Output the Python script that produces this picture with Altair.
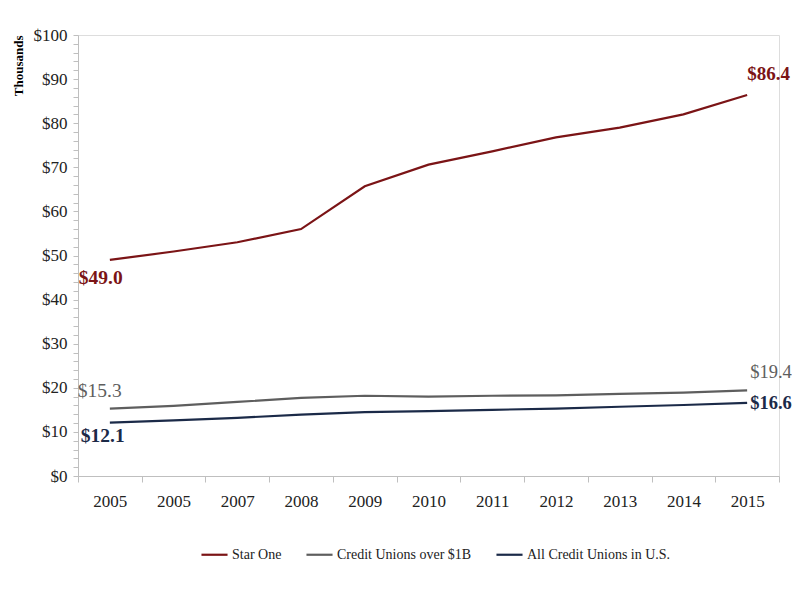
import json
import altair as alt
import pandas as pd

years = ["2005", "2005", "2007", "2008", "2009", "2010", "2011", "2012", "2013", "2014", "2015"]
series_names = ["Star One", "Credit Unions over $1B", "All Credit Unions in U.S."]
star_one = [49.0, 50.9, 53.0, 56.0, 65.7, 70.6, 73.6, 76.8, 79.0, 82.0, 86.4]
over_1b = [15.3, 15.9, 16.8, 17.7, 18.2, 18.0, 18.2, 18.3, 18.6, 18.9, 19.4]
all_cu = [12.1, 12.6, 13.2, 13.9, 14.5, 14.7, 15.0, 15.3, 15.7, 16.1, 16.6]
colors = ["#7B1416", "#5E5E5E", "#1B2A48"]

rows = []
for name, vals in zip(series_names, [star_one, over_1b, all_cu]):
    for i, v in enumerate(vals):
        rows.append({"series": name, "idx": i, "value": v})
df = pd.DataFrame(rows)

FONT = "Liberation Serif"
last = len(years) - 1
label_expr = json.dumps(years) + "[datum.value]"

x_enc = alt.X(
    "idx:O",
    bandPosition=0.5,
    scale=alt.Scale(type="band", paddingInner=0, paddingOuter=0),
    axis=alt.Axis(
        title=None, labelExpr=label_expr, tickBand="extent", labelAngle=0,
        labelFont=FONT, labelFontSize=17, labelColor="#222222", labelPadding=11,
        domainColor="#BFBFBF", tickColor="#BFBFBF", tickSize=6,
    ),
)
y_enc = alt.Y(
    "value:Q",
    scale=alt.Scale(domain=[0, 100], nice=False),
    axis=alt.Axis(
        title="Thousands", titleFont=FONT, titleFontSize=13, titleFontWeight="bold",
        titleAnchor="end", titleColor="#000000", titleX=-60, titleY=0, titleAlign="right",
        titleBaseline="middle",
        values=list(range(0, 101, 2)),
        labelExpr="datum.value % 10 == 0 ? '$' + datum.value : ''",
        labelFont=FONT, labelFontSize=17, labelColor="#222222", labelPadding=6,
        domainColor="#BFBFBF", tickColor="#BFBFBF", tickSize=5, grid=False,
    ),
)

color_scale = alt.Scale(domain=series_names, range=colors)

lines = alt.Chart(df).mark_line(strokeWidth=2.2).encode(
    x=x_enc,
    y=y_enc,
    color=alt.Color(
        "series:N", scale=color_scale, sort=series_names,
        legend=alt.Legend(
            title=None, orient="none", legendX=122, legendY=505,
            direction="horizontal", symbolType="stroke",
            symbolSize=680, symbolStrokeWidth=2.2, labelFont=FONT, labelFontSize=14,
            labelColor="#222222", columnPadding=20, labelOffset=3,
        ),
    ),
)


def value_label(name, idx, color, bold, align, dx, dy, size=19.5):
    return alt.Chart(df).transform_filter(
        (alt.datum.series == name) & (alt.datum.idx == idx)
    ).transform_calculate(
        txt="'$' + format(datum.value, '.1f')"
    ).mark_text(
        font=FONT, fontSize=size, fontWeight="bold" if bold else "normal",
        color=color, align=align, baseline="middle", dx=dx, dy=dy,
    ).encode(x=x_enc, y=y_enc, text="txt:N")


labels = [
    value_label(series_names[0], 0, colors[0], True, "left", -31, 18),
    value_label(series_names[0], last, colors[0], True, "left", 0, -21, 19),
    value_label(series_names[1], 0, colors[1], False, "left", -32, -18),
    value_label(series_names[1], last, colors[1], False, "left", 3, -18, 18.5),
    value_label(series_names[2], 0, colors[2], True, "left", -29, 13),
    value_label(series_names[2], last, colors[2], True, "left", 3, 0, 18.5),
]

chart = alt.layer(lines, *labels).properties(
    width=701, height=441,
    autosize=alt.AutoSizeParams(type="none"),
    padding={"left": 70, "top": 27, "right": 13, "bottom": 90},
).configure_view(stroke=None).configure(background="white")

chart.save("out.html", embed_options={"renderer": "svg", "actions": False})
